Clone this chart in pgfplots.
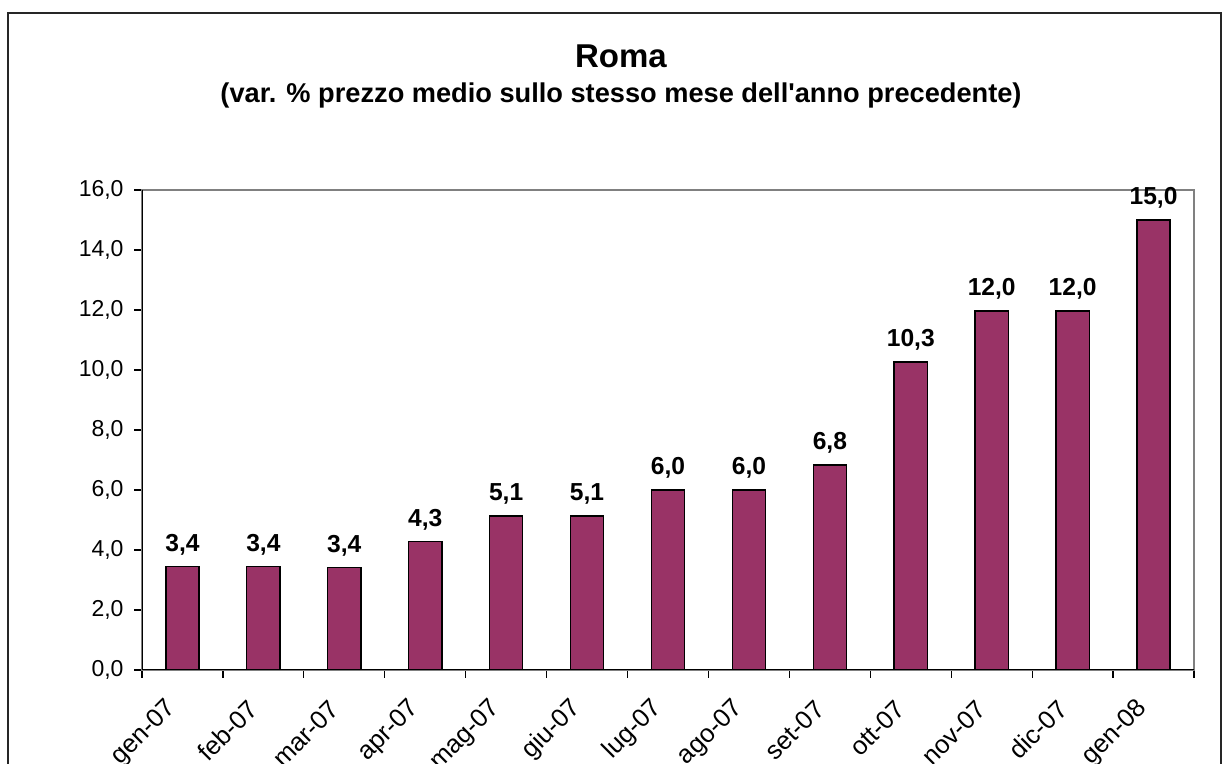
\documentclass[border=0pt]{standalone}
\usepackage{fontspec}
\setmainfont{Liberation Sans}
\usepackage{pgfplots}
\pgfplotsset{compat=1.18}
\definecolor{barfill}{HTML}{993366}
\definecolor{boxgray}{HTML}{808080}
\pgfkeys{/pgf/number format/.cd, fixed, fixed zerofill, precision=1, use comma, assume math mode=true}

\begin{document}
\begin{tikzpicture}
\clip (0,0) rectangle (611.5pt,382pt);
\draw[line width=0.8pt, black!85] (4pt,-10pt) -- (4pt,375.5pt) -- (610.5pt,375.5pt) -- (610.5pt,-10pt);
\node[font=\fontsize{16.5}{19}\selectfont\bfseries, anchor=base] at (310.5pt,348pt) {Roma};
\node[font=\fontsize{13.6}{16}\selectfont\bfseries, anchor=base] at (310.5pt,330.6pt) {(var. \% prezzo medio sullo stesso mese dell\textquotesingle anno precedente)};
\begin{axis}[
    at={(71pt,47pt)}, anchor=south west,
    width=526pt, height=240pt, scale only axis,
    ybar, bar width=0.41,
    xmin=-0.5, xmax=12.5, ymin=0, ymax=16,
    xtick={-0.5,0.5,...,12.5},
    x tick label as interval,
    xticklabels={gen-07,feb-07,mar-07,apr-07,mag-07,giu-07,lug-07,ago-07,set-07,ott-07,nov-07,dic-07,gen-08},
    ytick={0,2,...,16},
    tick align=outside, major tick length=4pt,
    xtick pos=bottom, ytick pos=left,
    tick style={black, line width=0.6pt},
    axis line style={boxgray, line width=0.6pt},
    yticklabel style={font=\fontsize{11.5}{13}\selectfont, xshift=-1.7pt},
    xticklabel style={font=\fontsize{12.8}{14}\selectfont, rotate=45, anchor=east, xshift=-1.77pt, yshift=1.77pt},
    xticklabel shift=11pt,
    nodes near coords,
    every node near coord/.append style={font=\fontsize{12.3}{14}\selectfont\bfseries, black, yshift=2pt},
]
\addplot[fill=barfill, draw=black, line width=0.7pt] coordinates {
    (0,3.44) (1,3.44) (2,3.42) (3,4.28) (4,5.13) (5,5.13) (6,6.0)
    (7,6.0) (8,6.83) (9,10.27) (10,11.97) (11,11.97) (12,15.0)};
\draw[black, line width=0.6pt] (rel axis cs:0,1) -- (rel axis cs:0,0) -- (rel axis cs:1,0);
\end{axis}
\end{tikzpicture}
\end{document}
